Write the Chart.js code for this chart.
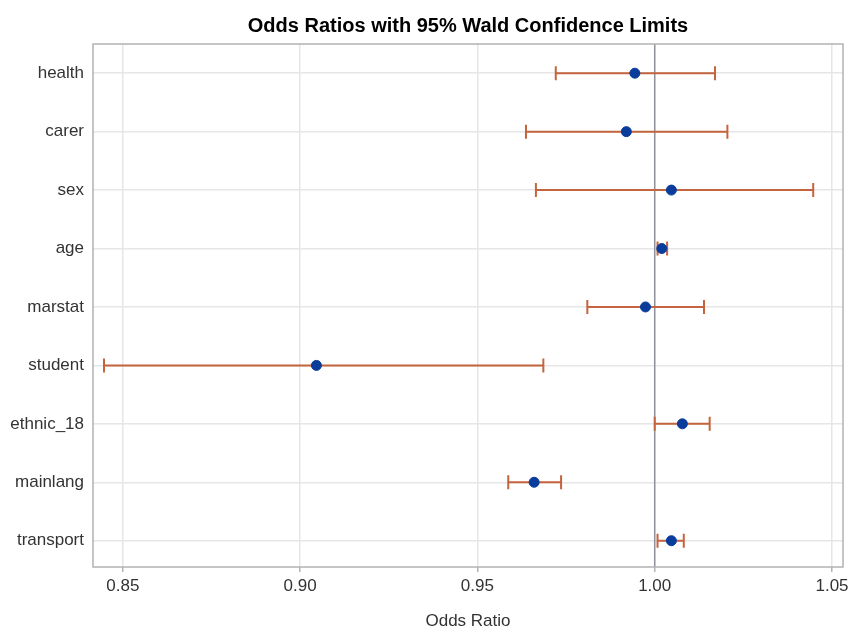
<!DOCTYPE html>
<html lang="en">
<head>
    <meta charset="UTF-8">
    <title>Odds Ratios with 95% Wald Confidence Limits</title>
    <script src="https://cdn.jsdelivr.net/npm/chart.js"></script>
    <style>
        html, body {
            margin: 0;
            padding: 0;
            background-color: white;
        }
        #wrap {
            width: 849px;
            height: 632px;
        }
    </style>
</head>
<body>
    <div id="wrap"><canvas id="or-chart"></canvas></div>
    <script>
        // 变量名（自上而下）
        const labels = ['health', 'carer', 'sex', 'age', 'marstat', 'student', 'ethnic_18', 'mainlang', 'transport'];
        // 点估计
        const oddsRatio = [0.9944, 0.9920, 1.0047, 1.0020, 0.9974, 0.9046, 1.0078, 0.9660, 1.0047];
        // 95% Wald 置信下限 / 上限
        const lowerCL = [0.9721, 0.9637, 0.9665, 1.0008, 0.9810, 0.8447, 1.0000, 0.9587, 1.0008];
        const upperCL = [1.0170, 1.0205, 1.0447, 1.0035, 1.0139, 0.9686, 1.0155, 0.9736, 1.0082];
        // x 轴刻度
        const xTicks = [0.85, 0.90, 0.95, 1.00, 1.05];
        const refValue = 1.0;

        const fontFamily = "'Liberation Sans', Arial, sans-serif";

        // 误差线 + 参考线 + 外框
        const forestPlugin = {
            id: 'forest',
            beforeDatasetsDraw(chart) {
                const ctx = chart.ctx;
                const xs = chart.scales.x;
                const ys = chart.scales.y;
                const area = chart.chartArea;

                // 参考线 1.00
                const rx = xs.getPixelForValue(refValue);
                ctx.save();
                ctx.strokeStyle = '#8f949c';
                ctx.lineWidth = 1.5;
                ctx.beginPath();
                ctx.moveTo(rx, area.top);
                ctx.lineTo(rx, area.bottom);
                ctx.stroke();

                // 误差线
                ctx.strokeStyle = '#c4643e';
                ctx.lineWidth = 2;
                labels.forEach((name, i) => {
                    const y = ys.getPixelForValue(i);
                    const x1 = xs.getPixelForValue(lowerCL[i]);
                    const x2 = xs.getPixelForValue(upperCL[i]);
                    ctx.beginPath();
                    ctx.moveTo(x1, y);
                    ctx.lineTo(x2, y);
                    ctx.moveTo(x1, y - 7);
                    ctx.lineTo(x1, y + 7);
                    ctx.moveTo(x2, y - 7);
                    ctx.lineTo(x2, y + 7);
                    ctx.stroke();
                });

                // 外框
                ctx.strokeStyle = '#b3b3b3';
                ctx.lineWidth = 1.5;
                ctx.strokeRect(area.left, area.top, area.right - area.left, area.bottom - area.top);
                ctx.restore();
            }
        };

        const ctx = document.getElementById('or-chart').getContext('2d');
        const chart = new Chart(ctx, {
            type: 'scatter',
            data: {
                datasets: [{
                    label: 'Odds Ratio',
                    data: oddsRatio.map((v, i) => ({ x: v, y: i })),
                    backgroundColor: '#0a3c9c',
                    borderColor: '#0a3c9c',
                    pointRadius: 5,
                    pointHoverRadius: 5
                }]
            },
            options: {
                responsive: true,
                maintainAspectRatio: false,
                animation: false,
                layout: {
                    padding: { left: 0, right: 2, top: 0, bottom: 0 }
                },
                plugins: {
                    legend: { display: false },
                    tooltip: { enabled: false },
                    title: {
                        display: true,
                        text: 'Odds Ratios with 95% Wald Confidence Limits',
                        fullSize: false,
                        color: '#000',
                        font: { family: fontFamily, size: 20, weight: 'bold' },
                        padding: { top: 14, bottom: 6 }
                    }
                },
                scales: {
                    x: {
                        type: 'linear',
                        min: 0.8416,
                        max: 1.0531,
                        afterBuildTicks: function(scale) {
                            scale.ticks = xTicks.map(v => ({ value: v }));
                        },
                        afterFit: function(scale) {
                            scale.height = 65;
                            scale.paddingLeft = 0;
                            scale.paddingRight = 0;
                        },
                        border: { display: false },
                        grid: {
                            color: '#e6e6e6',
                            lineWidth: 1.5,
                            tickLength: 5,
                            tickColor: '#b3b3b3'
                        },
                        ticks: {
                            padding: 4,
                            color: '#333',
                            font: { family: fontFamily, size: 17 },
                            callback: function(value) {
                                return value.toFixed(2);
                            }
                        },
                        title: {
                            display: true,
                            text: 'Odds Ratio',
                            color: '#333',
                            font: { family: fontFamily, size: 17 },
                            padding: { top: 0, bottom: 0 }
                        }
                    },
                    y: {
                        type: 'linear',
                        reverse: true,
                        min: -0.5,
                        max: 8.45,
                        afterBuildTicks: function(scale) {
                            scale.ticks = labels.map((name, i) => ({ value: i }));
                        },
                        afterFit: function(scale) {
                            scale.width = 93;
                            scale.paddingTop = 0;
                            scale.paddingBottom = 0;
                        },
                        border: { display: false },
                        grid: {
                            color: '#e6e6e6',
                            lineWidth: 1.5,
                            drawTicks: false
                        },
                        ticks: {
                            padding: 9,
                            color: '#333',
                            font: { family: fontFamily, size: 17 },
                            callback: function(value) {
                                return labels[value];
                            }
                        }
                    }
                }
            },
            plugins: [forestPlugin]
        });
    </script>
</body>
</html>
